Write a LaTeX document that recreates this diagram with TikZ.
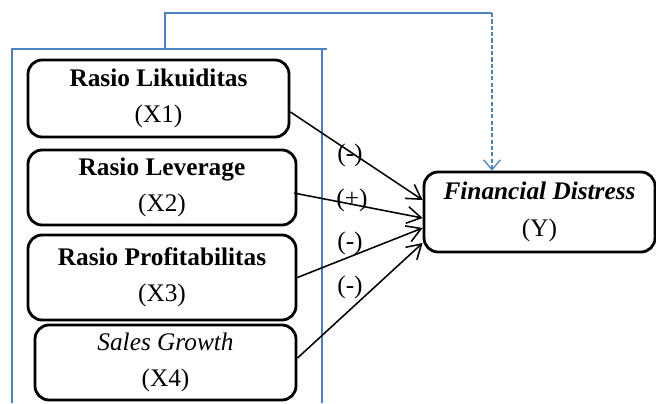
\documentclass[tikz,border=0pt]{standalone}
\usepackage{fontspec}
\setmainfont{Liberation Serif}
\usetikzlibrary{arrows.meta}
\definecolor{frameblue}{RGB}{79,129,189}

\begin{document}
\begin{tikzpicture}[
    varbox/.style={draw, line width=2pt, rounded corners=10pt, align=center,
      font=\fontsize{18}{26}\selectfont, inner sep=0pt},
    path/.style={line width=1.1pt, -{Straight Barb[length=10pt,width=12pt,line width=1.1pt]}},
    sign/.style={font=\fontsize{18}{20}\selectfont},
    frameline/.style={frameblue, line width=0.9pt}]
          \useasboundingbox (0,0) rectangle (16.4,-10.075);

          % frame round the independent variables
          \draw[frameline] (0.3,-10.075) -- (0.3,-1.225) -- (8.175,-1.225);
          \draw[frameline] (8.05,-1.225) -- (8.05,-10.075);

          \node[varbox, minimum width=6.525cm, minimum height=1.925cm] (likuid) at (3.9625,-2.4625) {\textbf{Rasio Likuiditas}\\(X1)};
          \node[varbox, minimum width=6.7cm, minimum height=1.875cm] (lever) at (4.05,-4.6875) {\textbf{Rasio Leverage}\\(X2)};
          \node[varbox, minimum width=6.7cm, minimum height=2.125cm] (profit) at (4.05,-6.9375) {\textbf{Rasio Profitabilitas}\\(X3)};
          \node[varbox, minimum width=6.525cm, minimum height=1.875cm] (sales) at (4.1375,-9.0625) {\textit{Sales Growth}\\(X4)};
          \node[varbox, minimum width=5.775cm, minimum height=2cm] (fd) at (13.4875,-5.3) {\textbf{\textit{Financial Distress}}\\(Y)};

          \draw[path] ([yshift=-0.3375cm]likuid.east) -- ([yshift=0.3cm]fd.west);
          \draw[path] ([xshift=-0.08cm,yshift=-0.14cm]lever.east) -- ([yshift=-0.15cm]fd.west);
          \draw[path] (profit.east) -- ([yshift=-0.4cm]fd.west);
          \draw[path] ([yshift=0.11cm]sales.east) -- ([yshift=-0.775cm]fd.west);

          \node[sign] (s1) at (8.75,-3.875) {(-)};
          \node[sign] (s2) at (8.8,-5.0) {(+)};
          \node[sign] (s3) at (8.75,-6.075) {(-)};
          \node[sign] (s4) at (8.75,-7.175) {(-)};

          % simultaneous effect
          \coordinate (fb) at (4.125,-1.225);
          \coordinate (corner) at (12.3,-0.325);
          \draw[frameline] (fb) |- (corner);
          \draw[frameline, dashed, dash pattern=on 3pt off 1.5pt,
            -{Straight Barb[length=7pt,width=12pt,line width=0.9pt]}] (corner) -- (corner |- fd.north);
        \end{tikzpicture}
\end{document}
